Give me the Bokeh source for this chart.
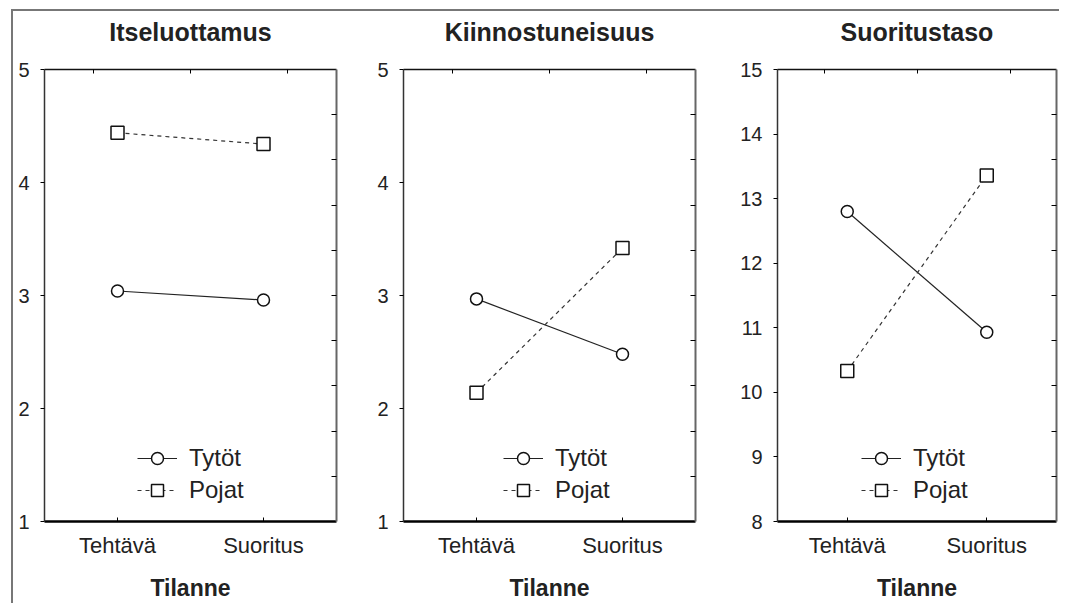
from bokeh.plotting import figure
from bokeh.layouts import row
from bokeh.models import Range1d, LinearAxis, FixedTicker
from bokeh.embed import file_html
from bokeh.resources import INLINE

# ---- data ----
categories = ["Tehtävä", "Suoritus"]
series_names = ["Tytöt", "Pojat"]

titles = ["Itseluottamus", "Kiinnostuneisuus", "Suoritustaso"]

itse_tytot = [3.04, 2.96]
itse_pojat = [4.44, 4.34]

kiin_tytot = [2.97, 2.48]
kiin_pojat = [2.14, 3.42]

suor_tytot = [12.80, 10.93]
suor_pojat = [10.33, 13.36]

y_ticks_1 = [1, 2, 3, 4, 5]
y_ticks_2 = [1, 2, 3, 4, 5]
y_ticks_3 = [8, 9, 10, 11, 12, 13, 14, 15]

x_title = "Tilanne"

FONT = "Liberation Sans"
TXT = "#222222"

# category slots: each category occupies one unit, centred at i + 0.5
x_pos = [i + 0.5 for i in range(len(categories))]


def blank_axis(ax):
    ax.major_label_overrides = {t: "" for t in ax.ticker.ticks}
    ax.major_label_text_font_size = "1px"
    ax.major_label_standoff = 0
    ax.minor_tick_line_color = None
    ax.major_tick_out = 0


def make_panel(title, yticks, tytot, pojat, width, bl, br, legend_x):
    ymin, ymax = yticks[0], yticks[-1]
    p = figure(width=width, height=592, x_range=Range1d(0, len(categories)),
               y_range=Range1d(ymin, ymax), output_backend="svg", title=None,
               toolbar_location=None, x_axis_location=None, y_axis_location=None,
               min_border_left=bl, min_border_right=br, min_border_top=58,
               min_border_bottom=82)
    p.outline_line_color = None
    p.grid.visible = False
    p.background_fill_color = "white"
    p.border_fill_color = "white"

    # left axis
    left = LinearAxis(ticker=FixedTicker(ticks=yticks))
    left.major_tick_in = 0
    left.major_tick_out = 4
    left.minor_tick_line_color = None
    left.major_label_standoff = 11
    left.major_label_text_font = FONT
    left.major_label_text_font_size = "20px"
    left.major_label_text_color = TXT
    left.axis_line_color = "#333333"
    left.axis_line_width = 1.5
    p.add_layout(left, "left")

    # right axis: ten equal divisions, inward ticks
    step = (ymax - ymin) / 10.0
    right = LinearAxis(ticker=FixedTicker(ticks=[ymin + k * step for k in range(1, 10)]))
    blank_axis(right)
    right.major_tick_in = 5
    right.axis_line_color = "#666666"
    right.axis_line_width = 2
    p.add_layout(right, "right")

    # top axis carries the panel title
    n = len(categories)
    top = LinearAxis(ticker=FixedTicker(ticks=[n / 6, n / 2, 5 * n / 6]))
    blank_axis(top)
    top.major_tick_in = 4
    top.axis_line_color = "#111111"
    top.axis_line_width = 1.5
    top.axis_label = title
    top.axis_label_text_font = FONT
    top.axis_label_text_font_size = "25px"
    top.axis_label_text_font_style = "bold"
    top.axis_label_text_color = TXT
    top.axis_label_standoff = 24
    p.add_layout(top, "above")

    # bottom axis
    bottom = LinearAxis(ticker=FixedTicker(ticks=x_pos))
    bottom.major_label_overrides = {x: c for x, c in zip(x_pos, categories)}
    bottom.major_tick_in = 4
    bottom.major_tick_out = 0
    bottom.minor_tick_line_color = None
    bottom.axis_line_color = "#000000"
    bottom.axis_line_width = 2.5
    bottom.major_label_standoff = 11
    bottom.major_label_text_font = FONT
    bottom.major_label_text_font_size = "22px"
    bottom.major_label_text_color = TXT
    bottom.axis_label = x_title
    bottom.axis_label_text_font = FONT
    bottom.axis_label_text_font_size = "23px"
    bottom.axis_label_text_font_style = "bold"
    bottom.axis_label_text_color = TXT
    bottom.axis_label_standoff = 14
    p.add_layout(bottom, "below")

    # series
    p.line(x_pos, tytot, line_color="#222222", line_width=1.2, legend_label=series_names[0])
    p.scatter(x_pos, tytot, marker="circle", size=12, fill_color="white",
              line_color="#111111", line_width=1.5, legend_label=series_names[0])
    p.line(x_pos, pojat, line_color="#333333", line_width=1.2, line_dash="4 4",
           legend_label=series_names[1])
    p.scatter(x_pos, pojat, marker="square", size=13, fill_color="white",
              line_color="#111111", line_width=1.5, legend_label=series_names[1])

    lg = p.legend[0]
    lg.location = (legend_x, 16)
    lg.padding = 0
    lg.margin = 0
    lg.spacing = 2
    lg.glyph_width = 40
    lg.glyph_height = 30
    lg.label_height = 30
    lg.label_standoff = 12
    lg.label_text_font = FONT
    lg.label_text_font_size = "24px"
    lg.label_text_color = TXT
    lg.border_line_color = None
    lg.background_fill_alpha = 0
    return p


p1 = make_panel(titles[0], y_ticks_1, itse_tytot, itse_pojat, 337, 31, 14, 93)
p2 = make_panel(titles[1], y_ticks_2, kiin_tytot, kiin_pojat, 360, 53, 15, 100)
p3 = make_panel(titles[2], y_ticks_3, suor_tytot, suor_pojat, 349, 67, 3, 84)

layout = row(p1, p2, p3, styles={"border-top": "2px solid #777777",
                                 "border-left": "2px solid #777777",
                                 "margin-left": "11px", "margin-top": "9px"})

open("out.html", "w").write(file_html(layout, INLINE))
